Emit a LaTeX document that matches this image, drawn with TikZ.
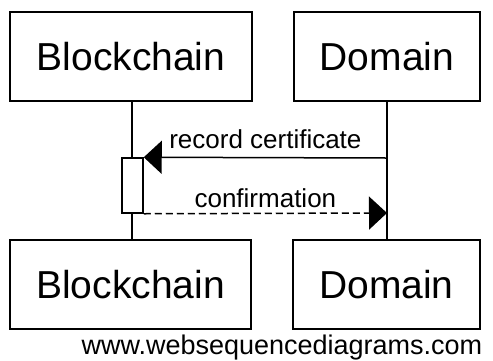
\documentclass[tikz,border=0pt]{standalone}
\usepackage{fontspec}
\setmainfont{Liberation Sans}
\usetikzlibrary{arrows.meta}

\begin{document}
\begin{tikzpicture}[x=1pt, y=-1pt, line width=1.5pt,
    actor/.style = {draw, rectangle, inner sep=0pt, minimum height=89pt,
                    font=\fontsize{39}{40}\selectfont},
    activation/.style = {draw, fill=white, rectangle, inner sep=0pt,
                    minimum width=21pt, minimum height=55pt},
    msg/.style = {-{Triangle[length=18pt, width=33pt]}},
    lbl/.style = {inner sep=0pt, font=\fontsize{26}{28}\selectfont}]
                \useasboundingbox (0,0) rectangle (493,360);
                % Participants
                \node[actor, minimum width=242pt] (bt) at (131,56.5) {Blockchain};
                \node[actor, minimum width=186pt] (dt) at (387,56.5) {Domain};
                \node[actor, minimum width=241pt] (bb) at (130.5,284.5) {Blockchain};
                \node[actor, minimum width=187pt] (db) at (386.5,284.5) {Domain};

                % Lignes de vie
                \draw (bt.south -| 132,0) -- (bb.north -| 132,0);
                \draw (dt.south) -- (db.north -| dt.south);
                \node[activation] (act) at (132.5,185.5) {};
                \coordinate (d1) at (387,158);
                \coordinate (d2) at (387,213);

                % Messages
                \draw[msg] (d1) -- node[lbl, above=8pt] {record certificate} (act.north east);
                \draw[msg, dash pattern=on 7pt off 4pt] (act.south east) -- node[lbl, above=5pt] {confirmation} (d2);

                \node[anchor=base east, inner sep=0pt, font=\fontsize{27}{28}\selectfont] (wsd) at (483,354) {www.websequencediagrams.com};
                \end{tikzpicture}
\end{document}
